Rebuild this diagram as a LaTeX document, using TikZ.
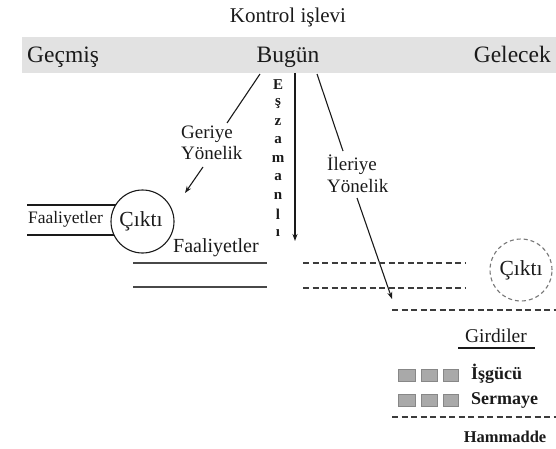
\documentclass[tikz,border=0pt]{standalone}
\usepackage{fontspec}
\setmainfont{Liberation Serif}
\usetikzlibrary{arrows.meta}
\definecolor{bandgray}{HTML}{E2E2E2}
\definecolor{boxgray}{HTML}{A9A9A9}
\definecolor{ink}{HTML}{1A1A1A}
\tikzset{
  lbl/.style={inner sep=0pt, text=ink},
  big/.style={lbl, font=\fontsize{23.5}{25}\selectfont},
  mid/.style={lbl, font=\fontsize{19}{21.5}\selectfont, align=left},
  vert/.style={lbl, font=\bfseries\fontsize{15}{16}\selectfont},
  inlbl/.style={lbl, font=\bfseries\fontsize{18}{19}\selectfont},
  ln/.style={draw=ink, line width=1.1pt},
  arr/.style={ln, -{Stealth[length=7pt,width=5pt]}},
  dln/.style={draw=ink!85, line width=1.1pt, dash pattern=on 6pt off 3.5pt},
  sq/.style={fill=boxgray, draw=boxgray!80!black, line width=0.4pt}
}
\begin{document}
\begin{tikzpicture}[x=1pt,y=-1pt]
\useasboundingbox (0,0) rectangle (556,449);
% band
\fill[bandgray] (22,37) rectangle (556,73);
\node[lbl, font=\fontsize{21}{22}\selectfont, anchor=base] (title) at (288,23) {Kontrol işlevi};
\node[big, anchor=base west] (past) at (27,63) {Geçmiş};
\node[big, anchor=base] (now) at (288,63) {Bugün};
\node[big, anchor=base east] (future) at (551,63) {Gelecek};

% backward
\coordinate (gb1) at (260,74);
\coordinate (gb2) at (227,123);
\draw[ln] (gb1) -- (gb2);
\node[mid, anchor=base west] (back) at (181,160) {Geriye\\Yönelik};
\coordinate (gb3) at (203,167);
\coordinate (gb4) at (185,193);
\draw[arr] (gb3) -- (gb4);

% concurrent
\coordinate (ez1) at (295,73);
\coordinate (ez2) at (295,241);
\draw[arr] (ez1) -- (ez2);
\foreach \c [count=\i from 0] in {E,ş,z,a,m,a,n,l,ı}
  \node[vert] (ez\i l) at (278,{85+18.5*\i}) {\c};

% forward
\coordinate (fw1) at (317,74);
\coordinate (fw2) at (343,151);
\draw[ln] (fw1) -- (fw2);
\node[mid, anchor=base west] (fwd) at (327,192) {İleriye\\Yönelik};
\coordinate (fw3) at (357,198);
\coordinate (fw4) at (392,299);
\draw[arr] (fw3) -- (fw4);

% left: output circle with activities
\node[draw=ink, line width=1.1pt, circle, minimum size=63pt, inner sep=0pt] (out1) at (142.5,221.5) {};
\node[lbl, font=\fontsize{21.5}{23}\selectfont] (out1t) at (141,221) {Çıktı};
\draw[ln] (27,205) -- (116.4,205);
\draw[ln] (27,235) -- (114.4,235);
\node[lbl, font=\fontsize{17.5}{19}\selectfont] (act1) at (65.5,219) {Faaliyetler};
\node[lbl, font=\fontsize{20}{21}\selectfont] (act2) at (216,248) {Faaliyetler};
\draw[ln, draw=ink!80] (133,263) -- (267,263);
\draw[ln, draw=ink!80] (133,287) -- (267,287);

% right: future
\draw[dln] (303,263) -- (465,263);
\draw[dln] (303,288) -- (465,288);
\node[draw=ink!60, line width=1.1pt, dash pattern=on 4pt off 3pt, circle, minimum size=62pt, inner sep=0pt] (out2) at (521,270) {};
\node[lbl, font=\fontsize{21.5}{23}\selectfont] (out2t) at (521,270) {Çıktı};
\draw[dln] (392,310) -- (556,310);

\node[lbl, font=\fontsize{19.5}{21}\selectfont] (inp) at (496,336) {Girdiler};
\draw[ln] (458,348) -- (535,348);

\foreach \yy in {375,400}{
  \fill[sq] (398,\yy-6) rectangle (415,\yy+6);
  \fill[sq] (421,\yy-6) rectangle (437,\yy+6);
  \fill[sq] (443,\yy-6) rectangle (458,\yy+6);
}
\node[inlbl, anchor=west] (labor) at (471,374) {İşgücü};
\node[inlbl, anchor=west] (capital) at (471,400) {Sermaye};
\draw[dln] (392,417) -- (556,417);
\node[lbl, font=\bfseries\fontsize{16.5}{18}\selectfont] (raw) at (505,437) {Hammadde};
\end{tikzpicture}
\end{document}
